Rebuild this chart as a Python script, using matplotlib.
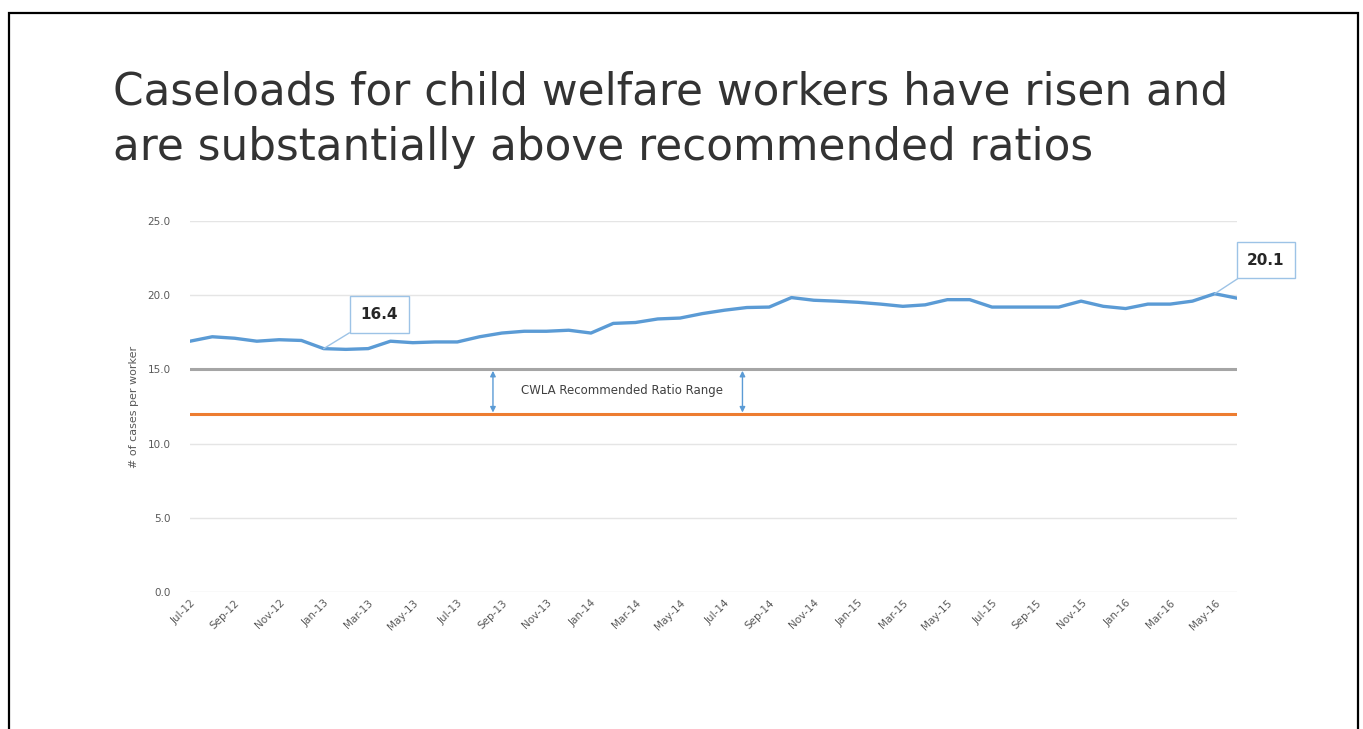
import numpy as np
import matplotlib.pyplot as plt
from matplotlib.patches import Rectangle

# Data
months = ['Jul-12', 'Aug-12', 'Sep-12', 'Oct-12', 'Nov-12', 'Dec-12',
          'Jan-13', 'Feb-13', 'Mar-13', 'Apr-13', 'May-13', 'Jun-13',
          'Jul-13', 'Aug-13', 'Sep-13', 'Oct-13', 'Nov-13', 'Dec-13',
          'Jan-14', 'Feb-14', 'Mar-14', 'Apr-14', 'May-14', 'Jun-14',
          'Jul-14', 'Aug-14', 'Sep-14', 'Oct-14', 'Nov-14', 'Dec-14',
          'Jan-15', 'Feb-15', 'Mar-15', 'Apr-15', 'May-15', 'Jun-15',
          'Jul-15', 'Aug-15', 'Sep-15', 'Oct-15', 'Nov-15', 'Dec-15',
          'Jan-16', 'Feb-16', 'Mar-16', 'Apr-16', 'May-16', 'Jun-16']
caseload = [16.9, 17.2, 17.1, 16.9, 17.0, 16.95,
            16.4, 16.35, 16.4, 16.9, 16.8, 16.85,
            16.85, 17.2, 17.45, 17.57, 17.57, 17.64,
            17.45, 18.1, 18.16, 18.4, 18.46, 18.76,
            18.99, 19.17, 19.2, 19.84, 19.66, 19.6,
            19.52, 19.4, 19.25, 19.35, 19.7, 19.7,
            19.2, 19.2, 19.2, 19.2, 19.6, 19.25,
            19.1, 19.4, 19.4, 19.6, 20.1, 19.8]
cwla_high = 15.0
cwla_low = 12.0
callouts = {'Jan-13': '16.4', 'May-16': '20.1'}
yticks = [0, 5, 10, 15, 20, 25]

fig = plt.figure(figsize=(13.63, 7.29), dpi=100)

# slide border (bottom edge is cut off)
fig.add_artist(Rectangle((9 / 1363, -0.05), 1349 / 1363, 1.05 - 13 / 729,
                         transform=fig.transFigure, fill=False,
                         edgecolor='black', linewidth=1.6))

fig.text(113 / 1363, 1 - 120 / 729,
         'Caseloads for child welfare workers have risen and\nare substantially above recommended ratios',
         fontsize=31.5, family='DejaVu Sans', color='#333333',
         va='center', ha='left', linespacing=1.36)

ax = fig.add_axes([190 / 1363, 1 - 592 / 729, 1047 / 1363, 371 / 729])
x = np.arange(len(months))

ax.plot(x, [cwla_high] * len(x), color='#A5A5A5', lw=2.2, zorder=2)
ax.plot(x, [cwla_low] * len(x), color='#ED7D31', lw=2.2, zorder=2)
ax.plot(x, caseload, color='#5B9BD5', lw=2.4, zorder=3)

ax.set_xlim(0, len(x) - 1)
ax.set_ylim(0, 25)
ax.set_yticks(yticks)
ax.set_yticklabels([f'{v:.1f}' for v in yticks])
ax.yaxis.grid(True, color='#E5E5E5', lw=1)
ax.set_axisbelow(True)
for s in ax.spines.values():
    s.set_visible(False)
ax.tick_params(axis='y', length=0, pad=14, labelsize=7.5, labelcolor='#595959')
ax.tick_params(axis='x', length=0, pad=4, labelsize=7.5, labelcolor='#595959')
ax.set_xticks(x[::2])
ax.set_xticklabels(months[::2], rotation=45, ha='right', rotation_mode='anchor')
ax.set_ylabel('# of cases per worker', fontsize=8, color='#595959', labelpad=6)

# CWLA range arrows and label
for xi in [13.6, 24.8]:
    ax.annotate('', xy=(xi, cwla_high), xytext=(xi, cwla_low),
                arrowprops=dict(arrowstyle='<|-|>', color='#5B9BD5', lw=1,
                                mutation_scale=8, shrinkA=1, shrinkB=1))
ax.text(19.4, (cwla_high + cwla_low) / 2 + 0.1,
        'CWLA Recommended Ratio Range', fontsize=8.5, color='#404040',
        ha='center', va='center')

# data callouts
box = dict(boxstyle='square,pad=0.7', fc='white', ec='#9DC3E6', lw=1)
offsets = {'Jan-13': (2.5, 2.3), 'May-16': (2.3, 2.26)}
for m, label in callouts.items():
    i = months.index(m)
    dx, dy = offsets[m]
    ax.annotate(label, xy=(i, caseload[i]), xytext=(i + dx, caseload[i] + dy),
                fontsize=11, fontweight='bold', color='#262626',
                ha='center', va='center', bbox=box, annotation_clip=False,
                arrowprops=dict(arrowstyle='-', color='#9DC3E6', lw=1,
                                shrinkA=0, shrinkB=0))

fig.savefig('out.png', dpi=100)
